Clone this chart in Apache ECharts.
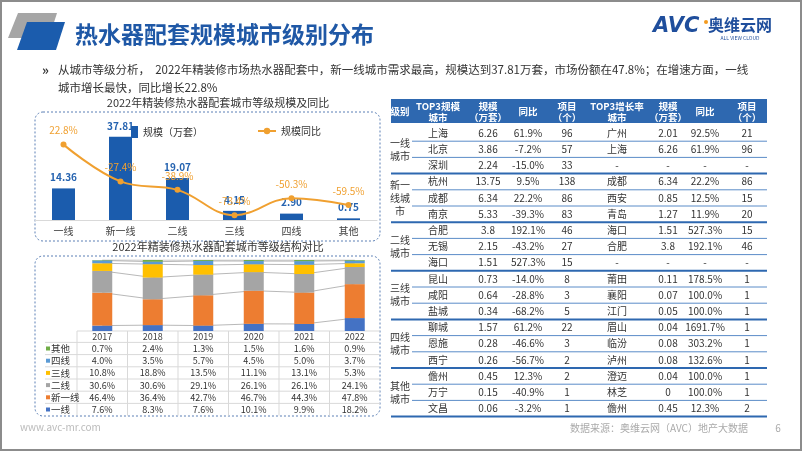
<!DOCTYPE html>
<html><head><meta charset="utf-8">
<script src="https://cdn.jsdelivr.net/npm/echarts@6/dist/echarts.min.js"></script>
<style>html,body{margin:0;padding:0;background:#fff}#c{width:802px;height:451px}</style>
</head><body><div id="c"></div>
<script>
const FONT = '"Noto Sans CJK SC", "Noto Sans", sans-serif';
// ---- top chart data ----
const tierCats = ['一线', '新一线', '二线', '三线', '四线', '其他'];
const scaleVals = [14.36, 37.81, 19.07, 4.15, 2.90, 0.75];
const yoyVals = [22.8, -27.4, -38.9, -73.4, -50.3, -59.5];
// ---- bottom chart data ----
const years = ['2017', '2018', '2019', '2020', '2021', '2022'];
const shareNames = ['一线', '新一线', '二线', '三线', '四线', '其他'];
const share1 = [7.6, 8.3, 7.6, 10.1, 9.9, 18.2];
const shareNew1 = [46.4, 36.4, 42.7, 46.7, 44.3, 47.8];
const share2 = [30.6, 30.6, 29.1, 26.1, 26.1, 24.1];
const share3 = [10.8, 18.8, 13.5, 11.1, 13.1, 5.3];
const share4 = [4.0, 3.5, 5.7, 4.5, 5.0, 3.7];
const shareOther = [0.7, 2.4, 1.3, 1.5, 1.6, 0.9];
const shareColors = ['#4472C4', '#ED7D31', '#A5A5A5', '#FFC000', '#5B9BD5', '#70AD47'];
// ---- right table data ----
const tableHeaders = ['级别', 'TOP3规模\n城市', '规模\n（万套）', '同比', '项目\n（个）', 'TOP3增长率\n城市', '规模\n（万套）', '同比', '项目\n（个）'];
const levelGroups = ['一线\n城市', '新一\n线城\n市', '二线\n城市', '三线\n城市', '四线\n城市', '其他\n城市'];
const topScaleCity = ['上海', '北京', '深圳', '杭州', '成都', '南京', '合肥', '无锡', '海口', '昆山', '咸阳', '盐城', '聊城', '恩施', '西宁', '儋州', '万宁', '文昌'];
const topScaleVal = ['6.26', '3.86', '2.24', '13.75', '6.34', '5.33', '3.8', '2.15', '1.51', '0.73', '0.64', '0.34', '1.57', '0.28', '0.26', '0.45', '0.15', '0.06'];
const topScaleYoy = ['61.9%', '-7.2%', '-15.0%', '9.5%', '22.2%', '-39.3%', '192.1%', '-43.2%', '527.3%', '-14.0%', '-28.8%', '-68.2%', '61.2%', '-46.6%', '-56.7%', '12.3%', '-40.9%', '-3.2%'];
const topScaleProj = ['96', '57', '33', '138', '86', '83', '46', '27', '15', '8', '3', '5', '22', '3', '2', '2', '1', '1'];
const topGrowthCity = ['广州', '上海', '-', '成都', '西安', '青岛', '海口', '合肥', '-', '莆田', '襄阳', '江门', '眉山', '临汾', '泸州', '澄迈', '林芝', '儋州'];
const topGrowthVal = ['2.01', '6.26', '-', '6.34', '0.85', '1.27', '1.51', '3.8', '-', '0.11', '0.07', '0.05', '0.04', '0.08', '0.08', '0.04', '0', '0.45'];
const topGrowthYoy = ['92.5%', '61.9%', '-', '22.2%', '12.5%', '11.9%', '527.3%', '192.1%', '-', '178.5%', '100.0%', '100.0%', '1691.7%', '303.2%', '132.6%', '100.0%', '100.0%', '12.3%'];
const topGrowthProj = ['21', '96', '-', '86', '15', '20', '15', '46', '-', '1', '1', '1', '1', '1', '1', '1', '1', '2'];

const chart = echarts.init(document.getElementById('c'), null, {renderer: 'canvas'});

const shareSeriesData = [share1, shareNew1, share2, share3, share4, shareOther];
const series = [
  {
    name: '规模（万套）', type: 'bar', xAxisIndex: 0, yAxisIndex: 0, data: scaleVals, barWidth: 23,
    itemStyle: {color: '#1B5CAD'},
    label: {show: true, position: 'top', distance: 6, fontSize: 10, fontWeight: 'bold', color: '#2563B0', fontFamily: FONT,
      formatter: p => p.value.toFixed(2)}
  },
  {
    name: '规模同比', type: 'line', xAxisIndex: 0, yAxisIndex: 1, data: yoyVals, smooth: 0.4,
    symbol: 'circle', symbolSize: 6, lineStyle: {width: 2, color: '#F0A030'}, itemStyle: {color: '#F0A030'},
    label: {show: true, position: 'top', distance: 6, fontSize: 10, color: '#F0A030', fontFamily: FONT,
      formatter: p => p.value.toFixed(1) + '%'}
  }
];
shareNames.forEach((n, i) => {
  series.push({
    name: n, type: 'bar', stack: 'share', xAxisIndex: 1, yAxisIndex: 2, data: shareSeriesData[i], barWidth: 20,
    itemStyle: {color: shareColors[i]}, z: 3
  });
  series.push({
    name: n + '_ln', type: 'line', stack: 'shareLn', xAxisIndex: 1, yAxisIndex: 2, data: shareSeriesData[i],
    symbol: 'none', lineStyle: {width: 0.8, color: '#A6A6A6'}, z: 1, silent: true
  });
});

chart.setOption({
  animation: false,
  backgroundColor: '#fff',
  textStyle: {fontFamily: FONT},
  title: [
    {text: '2022年精装修热水器配套城市等级规模及同比', left: 213, top: 92, textAlign: 'center',
      textStyle: {fontSize: 11, fontWeight: 'normal', color: '#333', fontFamily: FONT}},
    {text: '2022年精装修热水器配套城市等级结构对比', left: 213, top: 236, textAlign: 'center',
      textStyle: {fontSize: 11, fontWeight: 'normal', color: '#333', fontFamily: FONT}}
  ],
  legend: [
    {data: ['规模（万套）'], left: 126, top: 121, icon: 'rect', itemWidth: 7, itemHeight: 12, itemGap: 4,
      textStyle: {fontSize: 10, color: '#333', fontFamily: FONT}},
    {data: ['规模同比'], left: 252, top: 121, itemWidth: 18, itemHeight: 8,
      textStyle: {fontSize: 10, color: '#333', fontFamily: FONT}}
  ],
  grid: [
    {left: 35, width: 342, top: 132, height: 88},
    {left: 77, width: 303, top: 260, height: 71}
  ],
  xAxis: [
    {type: 'category', gridIndex: 0, data: tierCats, axisTick: {show: false},
      axisLine: {lineStyle: {color: '#D9D9D9'}},
      axisLabel: {fontSize: 10, color: '#404040', margin: 6, fontFamily: FONT}},
    {type: 'category', gridIndex: 1, data: years, axisTick: {show: false},
      axisLine: {show: false},
      axisLabel: {fontSize: 9, color: '#404040', margin: 1, fontFamily: FONT}}
  ],
  yAxis: [
    {type: 'value', gridIndex: 0, min: 0, max: 40, show: false},
    {type: 'value', gridIndex: 0, min: -80, max: 40, show: false},
    {type: 'value', gridIndex: 1, min: 0, max: 100, show: false}
  ],
  series: series
});

// ---- graphic: header, boxes, tables ----
const g = [];
g.push({type: 'rect', shape: {x: 1, y: 1, width: 800, height: 449}, style: {fill: 'none', stroke: '#8C8C8C', lineWidth: 2}, z: 100});
g.push({type: 'polygon', shape: {points: [[18, 13], [57, 13], [49, 38], [8, 38]]}, style: {fill: '#A6A6A6'}});
g.push({type: 'polygon', shape: {points: [[27, 22], [65, 22], [56, 50], [17, 50]]}, style: {fill: '#1B5CAD'}});
g.push({type: 'text', x: 75, y: 34, style: {text: '热水器配套规模城市级别分布', fontSize: 23, fontWeight: 'bold', fontFamily: FONT, fill: '#1F58A6', verticalAlign: 'middle'}});
// logo
g.push({type: 'text', x: 653, y: 27, style: {text: 'AVC', fontSize: 21, fontWeight: 'bold', fontStyle: 'italic', fontFamily: 'DejaVu Sans', fill: '#1F4E9C', verticalAlign: 'middle'}});
g.push({type: 'circle', shape: {cx: 706, cy: 22, r: 2}, style: {fill: '#F39A1E'}});
g.push({type: 'text', x: 708, y: 25, style: {text: '奥维云网', fontSize: 16, fontWeight: 'bold', fontFamily: FONT, fill: '#1F4E9C', verticalAlign: 'middle'}});
g.push({type: 'text', x: 740, y: 38, style: {text: 'ALL VIEW CLOUD', fontSize: 5, fontFamily: FONT, fill: '#1F4E9C', align: 'center', verticalAlign: 'middle'}});
// bullet text
g.push({type: 'text', x: 42, y: 70, style: {text: '»', fontSize: 13, fontWeight: 'bold', fontFamily: FONT, fill: '#333', verticalAlign: 'middle'}});
g.push({type: 'text', x: 58, y: 70, style: {text: '从城市等级分析，  2022年精装修市场热水器配套中，新一线城市需求最高，规模达到37.81万套，市场份额在47.8%；在增速方面，一线', fontSize: 11.5, fontFamily: FONT, fill: '#333', verticalAlign: 'middle'}});
g.push({type: 'text', x: 58, y: 88, style: {text: '城市增长最快，同比增长22.8%', fontSize: 11.5, fontFamily: FONT, fill: '#333', verticalAlign: 'middle'}});
// dashed boxes
g.push({type: 'rect', shape: {x: 35, y: 112, width: 345, height: 129, r: 8}, style: {fill: 'none', stroke: '#5B7FB5', lineWidth: 1, lineDash: [2, 2]}});
g.push({type: 'rect', shape: {x: 35, y: 256, width: 345, height: 160, r: 8}, style: {fill: 'none', stroke: '#5B7FB5', lineWidth: 1, lineDash: [2, 2]}});
// footer
g.push({type: 'text', x: 20, y: 427, style: {text: 'www.avc-mr.com', fontSize: 10, fontFamily: FONT, fill: '#BBBBBB', verticalAlign: 'middle'}});
g.push({type: 'text', x: 748, y: 428, style: {text: '数据来源：奥维云网（AVC）地产大数据', fontSize: 10, fontFamily: FONT, fill: '#AAAAAA', align: 'right', verticalAlign: 'middle'}});
g.push({type: 'text', x: 778, y: 428, style: {text: '6', fontSize: 10, fontFamily: FONT, fill: '#AAAAAA', align: 'center', verticalAlign: 'middle'}});

// bottom data table
const bLeft = 45, gLeft = 77, gRight = 380, colW = (gRight - gLeft) / years.length;
const rowTop = 331, rowH = 12.2;
const tableRowsData = [shareOther, share4, share3, share2, shareNew1, share1];
const tableRowNames = ['其他', '四线', '三线', '二线', '新一线', '一线'];
const tableRowColors = [shareColors[5], shareColors[4], shareColors[3], shareColors[2], shareColors[1], shareColors[0]];
const lineCol = '#D9D9D9';
g.push({type: 'line', shape: {x1: gLeft, y1: rowTop, x2: gRight, y2: rowTop}, style: {stroke: lineCol, lineWidth: 1}});
for (let r = 0; r < tableRowsData.length; r++) {
  const y = rowTop + 11.4 + r * rowH;
  g.push({type: 'line', shape: {x1: bLeft, y1: y, x2: gRight, y2: y}, style: {stroke: lineCol, lineWidth: 1}});
}
for (let k = 0; k < years.length; k++) {
  const x = gLeft + k * colW;
  g.push({type: 'line', shape: {x1: x, y1: rowTop, x2: x, y2: rowTop + 11.4 + tableRowsData.length * rowH}, style: {stroke: lineCol, lineWidth: 1}});
}
tableRowsData.forEach((arr, r) => {
  const cy = rowTop + 11.4 + r * rowH + rowH / 2;
  g.push({type: 'rect', shape: {x: 46, y: cy - 2, width: 4, height: 4}, style: {fill: tableRowColors[r]}});
  g.push({type: 'text', x: 51, y: cy, style: {text: tableRowNames[r], fontSize: 9.5, fontFamily: FONT, fill: '#333', verticalAlign: 'middle'}});
  arr.forEach((v, i) => {
    const px = chart.convertToPixel({xAxisIndex: 1}, years[i]);
    g.push({type: 'text', x: px, y: cy, style: {text: v.toFixed(1) + '%', fontSize: 9, fontFamily: FONT, fill: '#333', align: 'center', verticalAlign: 'middle'}});
  });
});

// right table
const tL = 391, tR = 767, hTop = 99, hBot = 123, tRowTop = 125, tRowH = 16.2;
const colX = [400, 438, 488, 528, 567, 617, 668, 705, 747];
const blueH = '#2E68B0';
g.push({type: 'rect', shape: {x: tL, y: hTop, width: tR - tL, height: hBot - hTop}, style: {fill: blueH}});
tableHeaders.forEach((h, i) => {
  g.push({type: 'text', x: colX[i], y: (hTop + hBot) / 2 + 0.5, style: {text: h, fontSize: 9.5, fontWeight: 'bold', fontFamily: FONT, fill: '#fff', align: 'center', verticalAlign: 'middle', lineHeight: 11}});
});
const cols = [topScaleCity, topScaleVal, topScaleYoy, topScaleProj, topGrowthCity, topGrowthVal, topGrowthYoy, topGrowthProj];
for (let r = 0; r < topScaleCity.length; r++) {
  const cy = tRowTop + r * tRowH + tRowH / 2;
  cols.forEach((arr, c) => {
    g.push({type: 'text', x: colX[c + 1], y: cy, style: {text: arr[r], fontSize: 10, fontFamily: FONT, fill: '#333', align: 'center', verticalAlign: 'middle'}});
  });
  const yb = tRowTop + (r + 1) * tRowH;
  if ((r + 1) % 3 === 0) {
    g.push({type: 'line', shape: {x1: tL, y1: yb, x2: tR, y2: yb}, style: {stroke: blueH, lineWidth: 2}});
  } else {
    g.push({type: 'line', shape: {x1: 412, y1: yb, x2: tR, y2: yb}, style: {stroke: '#5B8CC8', lineWidth: 1}});
  }
}
levelGroups.forEach((t, k) => {
  const cy = tRowTop + (k * 3 + 1.5) * tRowH;
  g.push({type: 'text', x: colX[0], y: cy, style: {text: t, fontSize: 10, fontFamily: FONT, fill: '#333', align: 'center', verticalAlign: 'middle', lineHeight: 13}});
});

chart.setOption({graphic: {elements: g}});
</script></body></html>
